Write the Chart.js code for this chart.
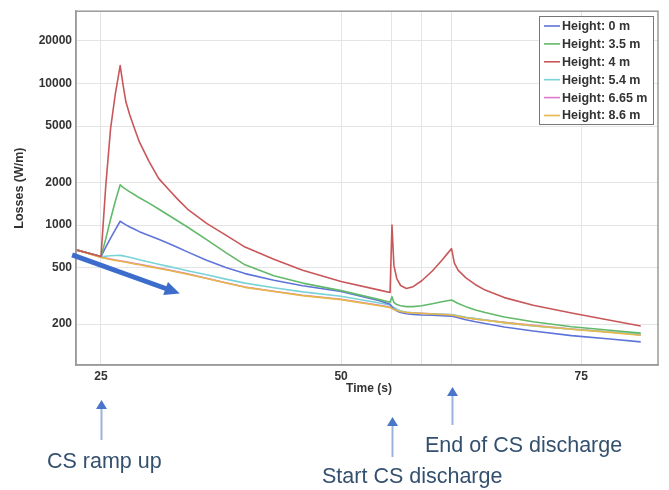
<!DOCTYPE html>
<html>
<head>
<meta charset="utf-8">
<script src="https://cdn.jsdelivr.net/npm/chart.js@4/dist/chart.umd.min.js"></script>
<style>
  html, body { margin: 0; padding: 0; background: #fff; }
  #wrap { width: 669px; height: 490px; position: relative; }
</style>
</head>
<body>
<div id="wrap"><canvas id="losses"></canvas></div>
<script>
// time axis (s) shared by every series
var time = [22.4, 25, 25.5, 26, 26.5, 27, 27.3, 27.6, 28, 28.5, 29, 30, 31, 32, 33, 34, 36, 38, 40, 43, 46, 50, 54,
            55.1, 55.3, 55.5, 55.8, 56.2, 56.8, 57.5, 58.4, 59.5, 60.5, 61.5, 61.8, 62.2, 63, 64, 65, 67, 70, 74, 78, 81.2];

// losses (W/m) per height
var h0    = [670, 600, 700, 810, 930, 1066, 1035, 1005, 970, 935, 900, 845, 795, 745, 695, 648, 565, 502, 455, 408, 374, 340, 293,
             276, 265, 256, 248, 242, 237, 234, 232, 231, 230, 228, 226, 222, 215, 208, 202, 191, 179, 166, 157, 150];
var h3_5  = [670, 600, 800, 1100, 1480, 1930, 1850, 1790, 1720, 1640, 1560, 1430, 1300, 1180, 1070, 970, 790, 640, 525, 440, 390, 345, 298,
             286, 312, 285, 275, 270, 266, 266, 270, 279, 288, 296, 289, 280, 266, 252, 242, 225, 208, 192, 181, 173];
var h4    = [670, 600, 1900, 4800, 8500, 13400, 9800, 7400, 6000, 4800, 3870, 2820, 2140, 1800, 1520, 1300, 1030, 850, 700, 575, 480, 400, 348,
             335, 1000, 520, 420, 375, 357, 368, 405, 475, 565, 683, 540, 480, 425, 380, 348, 308, 272, 240, 213, 194];
var h5_4  = [670, 600, 604, 608, 611, 612, 607, 601, 593, 581, 570, 550, 530, 512, 494, 477, 446, 416, 390, 362, 338, 315, 282,
             273, 268, 262, 255, 248, 243, 240, 238, 236, 235, 234, 232, 229, 224, 219, 214, 205, 194, 184, 176, 170];
var h6_65 = [671, 594, 585, 576, 568, 560, 556, 552, 545, 537, 530, 514, 499, 484, 469, 454, 422, 392, 366, 342, 320, 300, 272,
             264, 259, 255, 251, 247, 243, 241, 239, 237, 235, 233, 231, 228, 223, 218, 214, 206, 196, 185, 176, 168];
var h8_6  = [672, 592, 582, 572, 564, 556, 551, 547, 540, 532, 525, 510, 495, 480, 465, 450, 420, 390, 364, 340, 318, 298, 270,
             262, 258, 254, 250, 246, 242, 240, 238, 236, 234, 232, 230, 227, 222, 217, 213, 205, 195, 184, 175, 167];

var labels = ['Height: 0 m', 'Height: 3.5 m', 'Height: 4 m', 'Height: 5.4 m', 'Height: 6.65 m', 'Height: 8.6 m'];
var colors = ['#5f74d9', '#62b96a', '#c9575a', '#7ad3d6', '#e07ac8', '#e6b84a'];
// lower number is drawn on top
var drawOrder = [3, 2, 0, 4, 5, 1];

var xTicks = [25, 50, 55.3, 58.4, 61.5, 75];
var xLabelled = [25, 50, 75];
var yTicks = [200, 500, 1000, 2000, 5000, 10000, 20000];

// bottom notes: time they point at, and their text
var noteTimes = [25, 55.3, 61.5];
var noteTexts = ['CS ramp up', 'Start CS discharge', 'End of CS discharge'];

function pts(vals) {
    return time.map(function(t, i) { return { x: t, y: vals[i] }; });
}

var series = [h0, h3_5, h4, h5_4, h6_65, h8_6];
var datasets = series.map(function(s, i) {
    return {
        label: labels[i],
        data: pts(s),
        borderColor: colors[i],
        borderWidth: 1.6,
        borderJoinStyle: 'round',
        pointRadius: 0,
        fill: false,
        tension: 0,
        order: drawOrder[i]
    };
});

var annot = {
    id: 'annot',
    afterDraw: function(chart) {
        var ctx = chart.ctx, a = chart.chartArea;
        var xs = chart.scales.x, ys = chart.scales.y;
        ctx.save();

        // plot frame
        ctx.strokeStyle = '#9a9a9a';
        ctx.lineWidth = 1.5;
        ctx.strokeRect(a.left, a.top, a.right - a.left, a.bottom - a.top);

        // legend box
        var lx = 539, ly = 16, lw = 114, lh = 108;
        ctx.fillStyle = '#fff';
        ctx.fillRect(lx, ly, lw, lh);
        ctx.strokeStyle = '#777';
        ctx.lineWidth = 1;
        ctx.strokeRect(lx + 0.5, ly + 0.5, lw, lh);
        ctx.font = 'bold 12.5px "Liberation Sans", Arial, sans-serif';
        ctx.textBaseline = 'middle';
        ctx.textAlign = 'left';
        for (var i = 0; i < labels.length; i++) {
            var ry = ly + 10 + i * 17.9;
            ctx.strokeStyle = colors[i];
            ctx.lineWidth = 1.6;
            ctx.beginPath();
            ctx.moveTo(lx + 5, ry);
            ctx.lineTo(lx + 21, ry);
            ctx.stroke();
            ctx.fillStyle = '#333';
            ctx.fillText(labels[i], lx + 23, ry + 0.5);
        }

        // thick trend arrow
        var x0 = xs.getPixelForValue(22.0), y0 = ys.getPixelForValue(617);
        var x1 = xs.getPixelForValue(33.2), y1 = ys.getPixelForValue(329);
        var ang = Math.atan2(y1 - y0, x1 - x0);
        ctx.strokeStyle = '#3c6dcc';
        ctx.fillStyle = '#3c6dcc';
        ctx.lineWidth = 5;
        ctx.beginPath();
        ctx.moveTo(x0, y0);
        ctx.lineTo(x1 - 12 * Math.cos(ang), y1 - 12 * Math.sin(ang));
        ctx.stroke();
        ctx.beginPath();
        ctx.moveTo(x1, y1);
        ctx.lineTo(x1 - 15 * Math.cos(ang) + 7 * Math.sin(ang), y1 - 15 * Math.sin(ang) - 7 * Math.cos(ang));
        ctx.lineTo(x1 - 15 * Math.cos(ang) - 7 * Math.sin(ang), y1 - 15 * Math.sin(ang) + 7 * Math.cos(ang));
        ctx.closePath();
        ctx.fill();

        // x axis title
        ctx.fillStyle = '#333';
        ctx.font = 'bold 12px "Liberation Sans", Arial, sans-serif';
        ctx.textAlign = 'center';
        ctx.fillText('Time (s)', 369, 389);

        // notes below the axis
        var heads = [400, 417, 387];
        var tails = [440, 457, 425];
        var textX = [47, 322, 425];
        var textY = [462, 477, 446];
        for (var k = 0; k < noteTimes.length; k++) {
            var nx = Math.round(xs.getPixelForValue(noteTimes[k])) + 0.5;
            ctx.strokeStyle = '#9cb2de';
            ctx.lineWidth = 2;
            ctx.beginPath();
            ctx.moveTo(nx, heads[k] + 8);
            ctx.lineTo(nx, tails[k]);
            ctx.stroke();
            ctx.fillStyle = '#4a76c9';
            ctx.beginPath();
            ctx.moveTo(nx, heads[k]);
            ctx.lineTo(nx - 5.5, heads[k] + 9);
            ctx.lineTo(nx + 5.5, heads[k] + 9);
            ctx.closePath();
            ctx.fill();
            ctx.fillStyle = '#34506f';
            ctx.font = '21.5px "Liberation Sans", Arial, sans-serif';
            ctx.textAlign = 'left';
            ctx.fillText(noteTexts[k], textX[k], textY[k]);
        }
        ctx.restore();
    }
};

new Chart(document.getElementById('losses'), {
    type: 'line',
    data: { datasets: datasets },
    options: {
        responsive: true,
        maintainAspectRatio: false,
        animation: false,
        layout: { padding: { top: 8, right: 11, left: 0, bottom: 0 } },
        plugins: { legend: { display: false }, tooltip: { enabled: false } },
        scales: {
            x: {
                type: 'linear',
                min: 22.4,
                max: 83,
                afterFit: function(s) { s.height = 125; },
                afterBuildTicks: function(s) {
                    s.ticks = xTicks.map(function(v) { return { value: v }; });
                },
                ticks: {
                    padding: 4,
                    color: '#333',
                    font: { family: '"Liberation Sans", Arial, sans-serif', size: 12, weight: 'bold' },
                    callback: function(v) { return xLabelled.indexOf(v) >= 0 ? String(v) : ''; }
                },
                grid: { color: '#e4e4e4', drawTicks: false },
                border: { color: '#9a9a9a', width: 1.5 }
            },
            y: {
                type: 'logarithmic',
                min: 103,
                max: 32400,
                afterFit: function(s) { s.width = 76; },
                afterBuildTicks: function(s) {
                    s.ticks = yTicks.map(function(v) { return { value: v }; });
                },
                ticks: {
                    padding: 4,
                    color: '#333',
                    font: { family: '"Liberation Sans", Arial, sans-serif', size: 12, weight: 'bold' },
                    callback: function(v) { return String(v); }
                },
                title: {
                    display: true,
                    text: 'Losses (W/m)',
                    color: '#333',
                    padding: { top: 12, bottom: 0 },
                    font: { family: '"Liberation Sans", Arial, sans-serif', size: 12.5, weight: 'bold' }
                },
                grid: { color: '#e4e4e4', drawTicks: false },
                border: { color: '#9a9a9a', width: 1.5 }
            }
        }
    },
    plugins: [annot]
});
</script>
</body>
</html>
